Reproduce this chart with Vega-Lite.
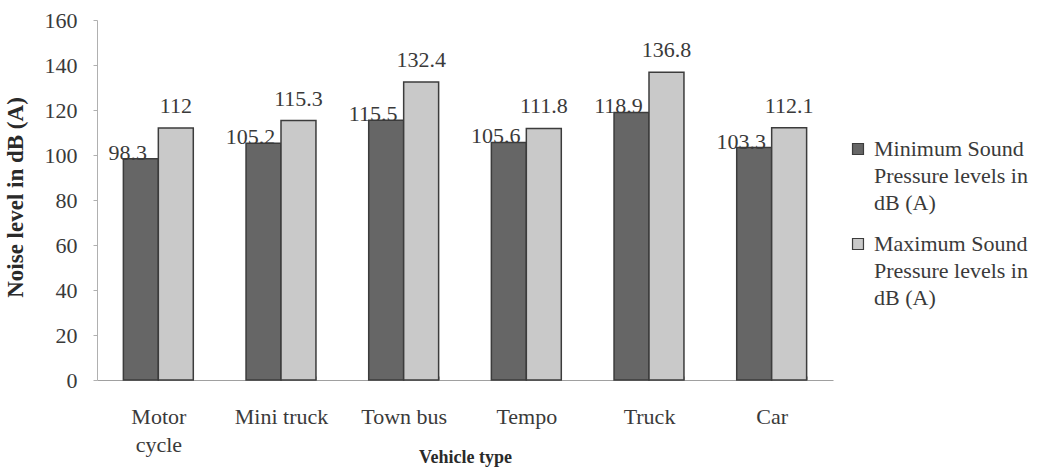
{
  "$schema": "https://vega.github.io/schema/vega-lite/v6.json",
  "width": 736,
  "height": 360,
  "autosize": {"type": "none"},
  "padding": {"left": 97, "top": 20, "right": 215, "bottom": 91},
  "background": "white",
  "config": {
    "font": "Liberation Serif",
    "view": {"stroke": null},
    "style": {"guide-label": {"lineHeight": 27}},
    "axis": {"labelFont": "Liberation Serif", "titleFont": "Liberation Serif", "labelColor": "#3a3a3a", "titleColor": "#2a2a2a", "domainColor": "#b0b0b0", "tickColor": "#b0b0b0", "grid": false}
  },
  "data": {
    "values": [
      {"vehicle": "Motor cycle", "series": "Minimum", "value": 98.3, "label": "98.3"},
      {"vehicle": "Motor cycle", "series": "Maximum", "value": 112, "label": "112"},
      {"vehicle": "Mini truck", "series": "Minimum", "value": 105.2, "label": "105.2"},
      {"vehicle": "Mini truck", "series": "Maximum", "value": 115.3, "label": "115.3"},
      {"vehicle": "Town bus", "series": "Minimum", "value": 115.5, "label": "115.5"},
      {"vehicle": "Town bus", "series": "Maximum", "value": 132.4, "label": "132.4"},
      {"vehicle": "Tempo", "series": "Minimum", "value": 105.6, "label": "105.6"},
      {"vehicle": "Tempo", "series": "Maximum", "value": 111.8, "label": "111.8"},
      {"vehicle": "Truck", "series": "Minimum", "value": 118.9, "label": "118.9"},
      {"vehicle": "Truck", "series": "Maximum", "value": 136.8, "label": "136.8"},
      {"vehicle": "Car", "series": "Minimum", "value": 103.3, "label": "103.3"},
      {"vehicle": "Car", "series": "Maximum", "value": 112.1, "label": "112.1"}
    ]
  },
  "encoding": {
    "x": {
      "field": "vehicle",
      "type": "nominal",
      "sort": ["Motor cycle", "Mini truck", "Town bus", "Tempo", "Truck", "Car"],
      "scale": {"paddingInner": 0.43, "paddingOuter": 0.215},
      "axis": {
        "title": "Vehicle type",
        "titleFontSize": 18,
        "titleFontWeight": "bold",
        "titleY": 82,
        "titleBaseline": "alphabetic",
        "labelAngle": 0,
        "labelFontSize": 22,
        "labelPadding": 30,
        "labelLineHeight": 28,
        "labelExpr": "datum.label == 'Motor cycle' ? ['Motor', 'cycle'] : datum.label",
        "tickBand": "extent",
        "tickSize": -4,
        "domainColor": "#a0a0a0"
      }
    },
    "xOffset": {"field": "series", "type": "nominal", "sort": ["Minimum", "Maximum"], "scale": {"paddingInner": 0, "paddingOuter": 0}},
    "y": {
      "field": "value",
      "type": "quantitative",
      "scale": {"domain": [0, 160], "nice": false},
      "axis": {
        "title": "Noise level in dB (A)",
        "titleFontSize": 23,
        "titleFontWeight": "bold",
        "titleX": -75,
        "titleY": 177,
        "titleBaseline": "alphabetic",
        "titleAlign": "center",
        "values": [0, 20, 40, 60, 80, 100, 120, 140, 160],
        "labelFontSize": 22,
        "labelPadding": 16,
        "tickSize": 4
      }
    }
  },
  "layer": [
    {
      "mark": {"type": "bar", "stroke": "#3c3c3c", "strokeWidth": 1.5},
      "encoding": {
        "color": {
          "field": "series",
          "type": "nominal",
          "sort": ["Minimum", "Maximum"],
          "scale": {"domain": ["Minimum", "Maximum"], "range": ["#666666", "#c9c9c9"]},
          "legend": {
            "orient": "none",
            "legendX": 750,
            "legendY": 118,
            "title": null,
            "symbolType": "square",
            "symbolSize": 120,
            "symbolStrokeColor": "#3c3c3c",
            "symbolStrokeWidth": 1.2,
            "labelFont": "Liberation Serif",
            "labelFontSize": 22,
            "labelColor": "#3a3a3a",
            "labelBaseline": "middle",
            "labelLimit": 300,
            "rowPadding": 19,
            "labelOffset": 5,
            "labelExpr": "datum.label == 'Minimum' ? ['Minimum Sound', 'Pressure levels in', 'dB (A)'] : ['Maximum Sound', 'Pressure levels in', 'dB (A)']"
          }
        }
      }
    },
    {
      "transform": [{"filter": "datum.series == 'Minimum'"}],
      "mark": {"type": "text", "fontSize": 22, "baseline": "alphabetic", "dx": -13, "dy": 1, "color": "#3a3a3a", "font": "Liberation Serif"},
      "encoding": {"text": {"field": "label"}}
    },
    {
      "transform": [{"filter": "datum.series == 'Maximum'"}],
      "mark": {"type": "text", "fontSize": 22, "baseline": "alphabetic", "dy": -15, "color": "#3a3a3a", "font": "Liberation Serif"},
      "encoding": {"text": {"field": "label"}}
    }
  ]
}
